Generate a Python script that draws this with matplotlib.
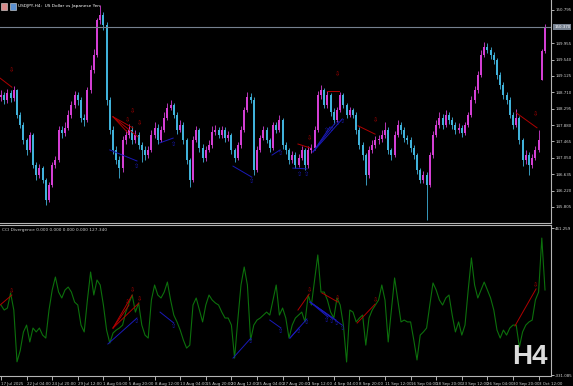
import matplotlib
matplotlib.use("Agg")
import matplotlib.pyplot as plt
from matplotlib.patches import Rectangle

# USDJPY H4 candles, one entry = 2 bars (8 hours)
closes = [148.64, 148.52, 148.69, 148.57, 148.77, 148.14, 147.88, 147.50, 147.25, 147.63,
          146.87, 146.62, 146.79, 146.49, 145.98, 146.36, 146.87, 147.00, 147.76, 147.68,
          147.81, 148.14, 148.39, 148.64, 148.52, 148.06, 148.01, 148.77, 149.28, 149.66,
          150.54, 150.67, 150.42, 148.52, 147.76, 147.25, 147.00, 146.79, 147.50, 147.63,
          147.76, 147.50, 147.63, 147.38, 147.25, 147.12, 147.25, 147.63, 147.81, 147.50,
          147.76, 148.06, 148.31, 148.39, 148.14, 147.76, 147.88, 147.50, 147.00, 146.49,
          147.50, 147.76, 147.30, 147.05, 147.25, 147.38, 147.70, 147.76, 147.63, 147.76,
          147.55, 147.63, 147.25, 147.05, 147.38, 147.76, 148.26, 148.59, 148.52, 146.74,
          147.25, 147.55, 147.76, 147.50, 147.30, 147.88, 147.76, 148.01, 147.38, 147.25,
          147.00, 147.12, 146.87, 147.05, 147.25, 146.87, 147.25, 147.30, 147.76, 148.64,
          148.77, 148.39, 148.64, 148.21, 148.01, 148.26, 148.64, 148.39, 148.14, 148.26,
          148.14, 147.76, 147.38, 147.12, 146.62, 147.25, 147.38, 147.50, 147.52, 147.63,
          147.76, 147.25, 147.12, 147.63, 147.88, 147.76, 147.55, 147.50, 147.30, 147.12,
          146.74, 146.49, 146.62, 146.36, 147.12, 147.63, 147.88, 148.06, 147.88, 148.14,
          148.01, 147.88, 147.76, 147.81, 147.68, 147.88, 148.14, 148.52, 148.77, 149.15,
          149.66, 149.86, 149.78, 149.66, 149.53, 149.15, 148.90, 148.64, 148.52, 148.14,
          147.88, 148.06, 147.50, 147.00, 147.12, 146.87, 147.05, 147.25, 147.50, 149.75,
          150.37]
highs = [148.78, 148.72, 148.80, 148.76, 148.87, 148.80, 148.20, 147.95, 147.55, 147.70,
         147.68, 146.95, 146.90, 146.85, 146.55, 146.45, 146.95, 147.10, 147.85, 147.85,
         147.95, 148.25, 148.50, 148.75, 148.72, 148.60, 148.15, 148.85, 149.40, 149.80,
         150.60, 150.92, 150.75, 150.50, 148.60, 147.85, 147.35, 147.10, 147.60, 147.75,
         147.90, 147.85, 147.75, 147.70, 147.45, 147.35, 147.35, 147.75, 147.95, 147.90,
         147.85, 148.20, 148.45, 148.52, 148.45, 148.20, 148.00, 147.95, 147.55, 147.05,
         147.60, 147.85, 147.80, 147.40, 147.35, 147.50, 147.85, 147.88, 147.82, 147.85,
         147.82, 147.72, 147.68, 147.30, 147.45, 147.85, 148.35, 148.72, 148.68, 148.58,
         147.35, 147.62, 147.85, 147.82, 147.55, 147.95, 147.95, 148.13, 148.05, 147.45,
         147.30, 147.22, 147.20, 147.15, 147.35, 147.30, 147.35, 147.40, 147.85, 148.75,
         148.90, 148.82, 148.75, 148.70, 148.30, 148.35, 148.72, 148.70, 148.45, 148.35,
         148.32, 148.20, 147.82, 147.45, 147.18, 147.35, 147.50, 147.60, 147.62, 147.75,
         147.95, 147.82, 147.30, 147.72, 148.00, 147.95, 147.82, 147.62, 147.58, 147.38,
         147.18, 146.80, 146.72, 146.68, 147.20, 147.72, 148.00, 148.20, 148.15, 148.25,
         148.20, 148.08, 147.95, 147.92, 147.88, 147.95, 148.22, 148.62, 148.88, 149.25,
         149.78, 149.99, 149.95, 149.85, 149.72, 149.58, 149.22, 148.98, 148.72, 148.60,
         148.20, 148.28, 148.10, 147.55, 147.25, 147.20, 147.15, 147.35, 147.76, 149.80,
         150.45]
lows = [148.50, 148.42, 148.45, 148.47, 148.50, 148.05, 147.80, 147.40, 147.12, 147.20,
        146.80, 146.50, 146.55, 146.40, 145.86, 145.92, 146.30, 146.80, 146.95, 147.55,
        147.60, 147.75, 148.05, 148.30, 148.40, 147.95, 147.85, 147.95, 148.70, 149.20,
        149.60, 150.45, 150.30, 148.40, 147.65, 147.15, 146.90, 146.55, 146.70, 147.40,
        147.55, 147.40, 147.42, 147.28, 146.95, 147.00, 147.05, 147.20, 147.55, 147.40,
        147.45, 147.70, 148.00, 148.25, 148.05, 147.65, 147.70, 147.40, 146.90, 146.30,
        146.45, 147.45, 147.20, 146.95, 146.98, 147.20, 147.30, 147.62, 147.55, 147.55,
        147.45, 147.48, 147.15, 146.95, 147.00, 147.30, 147.70, 148.20, 148.45, 146.62,
        146.70, 147.20, 147.50, 147.42, 147.20, 147.25, 147.68, 147.70, 147.28, 147.15,
        146.90, 146.92, 146.80, 146.82, 147.00, 146.74, 146.80, 147.18, 147.25, 147.70,
        148.55, 148.30, 148.32, 148.12, 147.90, 147.95, 148.20, 148.30, 148.05, 148.08,
        148.05, 147.65, 147.28, 147.00, 146.36, 146.55, 147.18, 147.30, 147.40, 147.45,
        147.55, 147.15, 147.00, 147.08, 147.58, 147.65, 147.45, 147.40, 147.20, 147.02,
        146.65, 146.40, 146.42, 145.48, 146.30, 147.05, 147.58, 147.80, 147.78, 147.82,
        147.90, 147.78, 147.65, 147.68, 147.58, 147.62, 147.82, 148.08, 148.45, 148.70,
        149.10, 149.60, 149.70, 149.55, 149.42, 149.05, 148.80, 148.55, 148.42, 148.05,
        147.78, 147.82, 147.40, 146.85, 146.90, 146.62, 146.80, 147.00, 147.20, 149.02,
        149.70]
opens = [148.60] + closes[:-1]
opens[169] = 149.02  # weekend gap

cci = [46, 19, 30, 111, 19, -260, -200, -100, -62, -153,
       -78, -99, -78, -116, -132, 19, 127, 197, 116, 84,
       127, 143, 116, 62, 46, -62, -99, 73, 224, 100,
       181, 154, 46, -89, -159, -105, -89, -78, -62, 8,
       57, 100, 8, 57, -62, -116, -132, 73, 154, 100,
       84, 116, 170, 73, -8, -45, -89, -143, -186, -170,
       46, 84, 19, -45, 46, 100, 73, 57, 46, 8,
       -24, -24, -62, -240, -35, 154, 251, 154, -143, -62,
       -35, -24, -8, 8, -8, 73, 154, -8, 30, -24,
       -132, -62, -24, -8, 8, -45, 100, 46, 181, 316,
       116, 116, 73, 8, -24, 84, 46, -62, -261, 19,
       8, -45, -24, -8, -170, -24, 19, 46, 73, 154,
       73, -153, 19, 192, 73, -45, -35, -45, -45, -143,
       -250, -116, -99, -78, 46, 165, 127, 73, 46, 84,
       100, -8, -99, -45, -116, -62, 127, 300, 154, 84,
       127, 170, 127, 84, 19, -89, -132, -89, -116, -78,
       -62, -62, -180, -99, -62, -45, -35, 73, 116, 407,
       127.34]

date_labels = ["17 Jul 2025", "22 Jul 04:00", "24 Jul 20:00", "29 Jul 12:00", "1 Aug 04:00",
               "5 Aug 20:00", "8 Aug 12:00", "13 Aug 04:00", "15 Aug 20:00", "20 Aug 12:00",
               "25 Aug 04:00", "27 Aug 20:00", "1 Sep 12:00", "4 Sep 04:00", "8 Sep 20:00",
               "11 Sep 12:00", "16 Sep 04:00", "18 Sep 20:00", "23 Sep 12:00", "26 Sep 04:00",
               "30 Sep 20:00", "3 Oct 12:00"]
price_ticks = [150.795, 149.955, 149.540, 149.125, 148.710, 148.295, 147.880,
               147.465, 147.050, 146.635, 146.220, 145.805]
last_price = 150.370
cci_max, cci_min = 461.259, -331.085

# divergence marks: ((x0, y0), (x1, y1)) in bar index / value
price_bear = [((-0.3, 149.07), (3.4, 148.84)), ((35, 148.09), (41.2, 147.81)),
              ((35, 148.09), (39.7, 147.68)), ((35, 148.09), (42.8, 147.58)),
              ((92.8, 147.40), (96.6, 147.30)), ((101.9, 148.74), (105.6, 148.74)),
              ((111.6, 147.86), (116.9, 147.65)), ((161, 148.19), (167.5, 147.81))]
price_bear_arr = [(3.2, 149.27), (41, 148.22), (39.6, 148.01), (43.4, 147.93), (96.3, 147.55),
                  (105.3, 149.17), (116.9, 148.01), (167.2, 148.14)]
price_bull = [((34, 147.25), (42.5, 146.97)), ((49.7, 147.43), (53.8, 147.55)),
              ((72.5, 146.84), (78.4, 146.56)), ((84.7, 147.12), (87.2, 147.25)),
              ((91.2, 146.79), (95.6, 146.77)), ((97.5, 147.20), (102.8, 147.83)),
              ((97.5, 147.20), (104.4, 147.93)), ((97.5, 147.20), (106.6, 148.03))]
price_bull_arr = [(42.5, 146.84), (54, 147.40), (78.4, 146.44), (87.5, 147.15), (93.2, 146.64),
                  (95.5, 146.64), (101.6, 147.74), (103.4, 147.78), (105.1, 147.93), (106.8, 147.96)]
cci_bear = [((-0.3, 46), (3.4, 100)), ((35, -78), (40, 46)), ((35, -78), (41, 100)),
            ((35, -78), (43.1, 57)), ((92.8, 19), (96.3, 105)), ((100.3, 111), (105.3, 62)),
            ((111.3, -51), (116.9, 51)), ((160.6, -67), (167.2, 133))]
cci_bear_arr = [(3.4, 122), (39.6, 62), (41, 125), (43.3, 78), (96.3, 127), (105.3, 85),
                (116.9, 73), (167.2, 155)]
cci_bull = [((33.4, -164), (42.5, -24)), ((49.7, 8), (54, -51)), ((72.5, -240), (78.1, -132)),
            ((84, -35), (87.5, -78)), ((90.3, -132), (93.1, -78)), ((90.3, -132), (95.6, -29)),
            ((96.6, 62), (102.2, -19)), ((96.6, 62), (103.4, -24)), ((96.6, 62), (104.7, -35)),
            ((96.6, 62), (106.6, -62))]
cci_bull_arr = [(42.5, -45), (54, -72), (78.1, -152), (87.5, -98), (93.1, -98), (95.6, -50),
                (101.6, -40), (103.3, -45), (105.0, -56), (106.8, -82)]

W, H = 573, 386
BG = "black"
FRAME = "#b4b4b4"
TXT = "#d0d0d0"
UP = "#d43fd4"
DOWN = "#40b2da"
RED = "#b00000"
BLUE = "#1a1ab8"
FS = 2.9

fig = plt.figure(figsize=(W / 100, H / 100), dpi=100, facecolor=BG)
ax = fig.add_axes([0, 1 - 223 / H, 551 / W, 223 / H], facecolor=BG)
ax2 = fig.add_axes([0, 1 - 376 / H, 551 / W, 151 / H], facecolor=BG)

xl = (-0.3125, 171.875)
for a in (ax, ax2):
    a.set_xlim(*xl)
    for s in a.spines.values():
        s.set_color(FRAME)
        s.set_linewidth(0.8)
    a.spines["left"].set_visible(False)
    a.yaxis.tick_right()
    a.tick_params(axis="y", colors=TXT, labelsize=FS, length=2, width=0.6, pad=1)
ax.spines["top"].set_visible(False)

# candles
n = len(closes)
idx = list(range(n))
cols = [UP if closes[i] >= opens[i] else DOWN for i in idx]
ax.vlines(idx, lows, highs, colors=cols, lw=0.6)
ax.bar(idx, [max(abs(closes[i] - opens[i]), 0.02) for i in idx],
       bottom=[min(opens[i], closes[i]) for i in idx], width=0.6, color=cols, lw=0)
ax.set_ylim(145.399, 151.048)
ax.set_yticks(price_ticks)
ax.set_yticklabels([f"{v:.3f}" for v in price_ticks])
ax.set_xticks([])
ax.axhline(last_price, color="#75808f", lw=0.8)
ax.text(1.006, last_price, f"{last_price:.3f}", transform=ax.get_yaxis_transform(),
        fontsize=FS, color="white", va="center", ha="left",
        bbox=dict(facecolor="#75808f", edgecolor="none", pad=0.6))

for (p0, p1) in price_bear:
    ax.plot([p0[0], p1[0]], [p0[1], p1[1]], color=RED, lw=0.7)
for (p0, p1) in price_bull:
    ax.plot([p0[0], p1[0]], [p0[1], p1[1]], color=BLUE, lw=0.7)
for x, y in price_bear_arr:
    ax.text(x, y, "\u21e9", color=RED, fontsize=4.5, ha="center", va="center")
for x, y in price_bull_arr:
    ax.text(x, y, "\u21e7", color=BLUE, fontsize=4.5, ha="center", va="center")

# CCI window
ax2.plot(idx, cci, color="#0c700c", lw=0.8)
ax2.set_ylim(-336.46, 477.43)
ax2.set_yticks([cci_max, cci_min])
ax2.set_yticklabels([f"{cci_max:.3f}", f"{cci_min:.3f}"])
for (p0, p1) in cci_bear:
    ax2.plot([p0[0], p1[0]], [p0[1], p1[1]], color=RED, lw=0.7)
for (p0, p1) in cci_bull:
    ax2.plot([p0[0], p1[0]], [p0[1], p1[1]], color=BLUE, lw=0.7)
for x, y in cci_bear_arr:
    ax2.text(x, y, "\u21e9", color=RED, fontsize=4.5, ha="center", va="center")
for x, y in cci_bull_arr:
    ax2.text(x, y, "\u21e7", color=BLUE, fontsize=4.5, ha="center", va="center")

ax2.set_xticks(list(range(0, 8 * len(date_labels), 8)))
ax2.set_xticklabels(date_labels)
ax2.tick_params(axis="x", colors=TXT, labelsize=FS, length=3, width=0.6, pad=1.5)
plt.setp(ax2.get_xticklabels(), ha="left")

# header texts and icons
fig.patches.append(Rectangle((1 / W, 1 - 10 / H), 6 / W, 7 / H, transform=fig.transFigure,
                             facecolor="#d88a8a", edgecolor="#e0e0e0", lw=0.4))
fig.patches.append(Rectangle((10 / W, 1 - 10 / H), 6 / W, 7 / H, transform=fig.transFigure,
                             facecolor="#5a8fd0", edgecolor="#e0e0e0", lw=0.4))
fig.text(18 / W, 1 - 6.5 / H, "USDJPY,H4:  US Dollar vs Japanese Yen", fontsize=FS + 0.2,
         color="white", va="center", ha="left")
fig.text(2 / W, 1 - 230 / H, "CCI Divergence 0.000 0.000 0.000 0.000 127.340", fontsize=FS + 0.2,
         color=TXT, va="center", ha="left")
fig.text(530 / W, 1 - 357 / H, "H4", fontsize=20, fontweight="bold", family="Liberation Sans",
         color="#dcdcdc", ha="center", va="center")

fig.savefig("out.png", dpi=100, facecolor=BG)
